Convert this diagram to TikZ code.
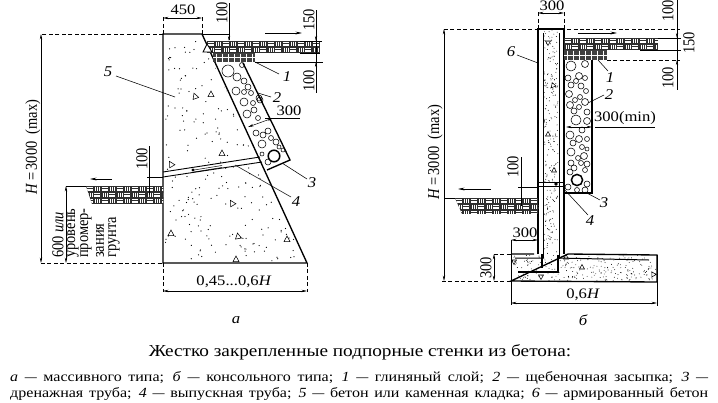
\documentclass[tikz,border=0pt]{standalone}
\usepackage{fontspec}
\usepackage{graphicx}
\setmainfont{Liberation Serif}
\usetikzlibrary{arrows.meta}
\newcommand{\soilfill}[4]{%
 \fill[black!82] (#1,#2) rectangle (#3,#4);
 \pgfmathtruncatemacro\nx{(#3-#1)/7.5}
 \pgfmathtruncatemacro\ny{(#4-#2)/6}
 \foreach \i in {0,...,\nx}{\foreach \j in {0,...,\ny}{
   \pgfmathsetmacro\cx{#1+\i*7.5}\pgfmathsetmacro\cy{#2+\j*6}
   \pgfmathtruncatemacro\pp{mod(\i+\j,2)}
   \ifnum\pp=0
     \draw[white,line width=.5pt] (\cx+.8,\cy+1.4) -- ++(6,0) (\cx+.8,\cy+3) -- ++(6,0) (\cx+.8,\cy+4.6) -- ++(6,0);
   \else
     \draw[white,line width=.5pt] (\cx+1.8,\cy+.6) -- ++(0,4.8) (\cx+3.8,\cy+.6) -- ++(0,4.8) (\cx+5.8,\cy+.6) -- ++(0,4.8);
   \fi}}}
\newcommand{\dsh}{\scalebox{.75}[1]{---}}
\tikzset{
 wall/.style={line width=1.35pt,line join=miter},
 dimline/.style={line width=.5pt,{Stealth[length=5.5pt,width=2.4pt]}-{Stealth[length=5.5pt,width=2.4pt]}},
 arrowline/.style={line width=.6pt,-{Stealth[length=6.5pt,width=2.8pt]}},
 extline/.style={line width=.5pt},
 dashext/.style={line width=.5pt,dash pattern=on 4pt off 2.5pt},
 leader/.style={line width=.55pt},
 txt/.style={font=\fontsize{14.5}{16}\selectfont,inner sep=0pt,transform shape,xscale=1.15},
 rot/.style={font=\fontsize{14.5}{16}\selectfont,inner sep=0pt,transform shape,rotate=90,yscale=1.15},
 ital/.style={font=\fontsize{15}{16}\selectfont\itshape,inner sep=0pt,transform shape,xscale=1.12},
 stone/.style={line width=.55pt},
 aggr/.style={line width=.55pt},
 capt/.style={font=\fontsize{14}{16}\selectfont,inner sep=0pt,anchor=west}
}
\begin{document}
\begin{tikzpicture}[x=1bp,y=-1bp]
\useasboundingbox (0,0) rectangle (718,402);
\pgfmathsetseed{4711}
% ---------- figure a ----------
\begin{scope}
 \clip (165,36) -- (201,36) -- (305,261) -- (165,261) -- cycle;
 \foreach \i in {1,...,300}{\fill (165+rnd*140,36+rnd*225) circle (.62);}
\end{scope}
\fill[white] (163,172) -- (260,157) -- (262,162) -- (163,177) -- cycle;
\draw[wall] (202,34) -- (163,34) -- (163,263) -- (307,263) -- (202,34);
\draw[line width=.9pt] (163,172) -- (260,157) (163,177) -- (262,162);
\draw[line width=.5pt] (194,170) -- (222,165.5) (194,172) -- (222,167.5);
\fill (193,170) circle (1.6);
% gravel a
\draw[wall] (243,63) -- (290,160) -- (267,170);
\foreach \x/\y/\r in {228/71/6,237/77/4,244/81/3,242/65/2.5,236/91/4,244/92/2.5,251/93/2.5,248/87/3,259/98/3,244/102/4,253/103/2.5,260/100/3,254/110/3,247/114/4,258/118/2.5,256/133/3,263/135/3,268/131/3,271/138/2.5,262/144/4,276/142/3,279/147/2,262/154/2,268/162/3,283/150/2}
  \draw[stone] (\x,\y) circle (\r);
\draw[line width=1.5pt,fill=white] (274,156) circle (5.8);
% soil a top
\begin{scope}
 \clip (207,41) rectangle (320,53);
 \soilfill{207}{41}{320}{53}
\end{scope}
\begin{scope}
 \clip (213,53) rectangle (255,62);
 \fill[black!75] (213,53) rectangle (255,62);
 \foreach \x in {216,222,...,252}{\draw[white,line width=.5pt] (\x,53.5) -- (\x,61.5);}
 \draw[white,line width=.5pt] (213,57.5) -- (255,57.5);
\end{scope}
\draw[line width=.9pt,fill=white] (203,52) -- (207,44) -- (212,52) -- cycle;
\draw[extline] (255,62) -- (323,62) (202,34) -- (229,34);
% soil a lower
\begin{scope}
 \clip (86,186) -- (163,186) -- (163,204) -- (92,204) -- cycle;
 \soilfill{86}{186}{163}{204}
\end{scope}
% aggregates a
\foreach \x/\y/\a in {195/96/20,211/94/0,222/153/0,171/164/30,232/203/30,171/233/0,238/236/10,287/239/0,236/259/0}
  \draw[aggr,rotate around={\a:(\x,\y)}] (\x-3,\y+2.6) -- (\x,\y-3) -- (\x+3,\y+2.6) -- cycle;
% dims a
\coordinate (a450l) at (163,34); \coordinate (a450r) at (202,34);
\draw[dashext] (a450l) -- (163,15) (a450r) -- (202,15) (a450l) -- (41,34);
\draw[dimline] (163,18) -- (202,18);
\node[txt] (t450) at (183,10) {450};
\draw[dimline] (41,34) -- (41,263);
\draw[dashext] (41,263) -- (163,263);
\node[rot] (tHa) at (33,147) {\textit{H}\,=\,3000\ \ (max)};
\node[rot] (t100a) at (222,13) {100};
\draw[extline] (229,3) -- (229,40);
\draw[extline,-{Stealth[length=5pt,width=2.2pt]}] (229,22) -- (229,41);
\draw[arrowline] (265,33) -- (302,33);
\node[rot] (t150a) at (309,20) {150};
\draw[extline] (316,10) -- (316,93) (300,41) -- (322,41) (300,53) -- (320,53);
\draw[extline,-{Stealth[length=5pt,width=2.2pt]}] (316,22) -- (316,41);
\draw[extline,-{Stealth[length=5pt,width=2.2pt]}] (316,80) -- (316,62);
\node[rot] (t100b) at (309,81) {100};
\node[ital] (l5) at (108,72) {5};
\coordinate (p5) at (175,97); \draw[leader] (l5) ++(8,4) -- (p5);
\node[ital] (l1) at (287,77) {1};
\coordinate (p1) at (255,62); \draw[leader] (p1) -- (279,74);
\node[ital] (l2) at (277,98) {2};
\coordinate (p2) at (258,93); \draw[leader] (p2) -- (271,97);
\node[txt] (t300a) at (289,111) {300};
\draw[extline] (265,118) -- (300,118);
\draw[dimline] (248,127) -- (273,118);
\node[ital] (l3) at (312,183) {3};
\coordinate (p3) at (282,163); \draw[leader] (p3) -- (307,179);
\node[ital] (l4) at (296,202) {4};
\coordinate (p4) at (235,165); \draw[leader] (p4) -- (291,197);
\node[rot] (t100c) at (142,159) {100};
\draw[extline] (149,146) -- (149,195) (147,177) -- (163,177);
\draw[arrowline] (112,179) -- (90,179);
\draw[extline] (66,186) -- (86,186);
\draw[dimline] (66,186) -- (66,263);
\foreach \x/\t/\n in {58/600 \textit{или}/a,73/уровень/b,86/промер-/c,100/зания/d,114/грунта/e}
  \node[rot,anchor=west] (s\n) at (\x,258) {\t};
\draw[dashext] (163,263) -- (163,292) (307,263) -- (307,292);
\draw[dimline] (163,291) -- (307,291);
\node[txt] (tba) at (234,282) {0,45...0,6\textit{H}};
\node[ital] (ca) at (236,320) {а};
% ---------- figure b ----------
\begin{scope}
 \clip (544,30) rectangle (558,254);
 \foreach \i in {1,...,230}{\fill (544+rnd*14,30+rnd*224) circle (.45);}
\end{scope}
\begin{scope}
 \clip (512,255) rectangle (656,281);
 \foreach \i in {1,...,230}{\fill (512+rnd*144,255+rnd*26) circle (.45);}
\end{scope}
\fill[white] (538,182) rectangle (564,186);
\draw[wall] (538,254) -- (538,29) -- (564,29) -- (564,254);
\draw[wall] (511,254) -- (534,254) (568,254) -- (657,255) -- (657,282) -- (511,281) -- cycle;
\draw[line width=.9pt] (543,33) -- (543,258);
\draw[line width=.9pt] (559,33) -- (559,258);
% rebars
\draw[line width=1pt] (515,258) -- (544,258) (558,258) -- (649,260);
\draw[line width=1.2pt] (518,272) -- (558,272) -- (558,255);
\draw[line width=1.2pt] (542,254) -- (542,268);
\draw[line width=.9pt] (538,182) -- (564,182) (538,186) -- (564,186);
\fill (556,184) circle (1.8);
% gravel b
\draw[wall] (592,60) -- (592,193) -- (564,193);
\foreach \x/\y/\r in {571/66/5,585/64/3.5,579/76/3.5,585/78/2.5,568/78/3,576/81/2.5,571/85/3,581/86/3,586/91/2.5,569/94/3.5,575/100/2.5,580/97/2.5,570/105/3.5,579/107/2.5,585/102/3.5,574/111/3,587/112/3,576/120/5,587/121/3.5,582/130/3,570/135/4,579/139/3.5,587/139/2.5,573/143/3,582/147/2.5,587/149/2,571/152/4,584/156/3.5,578/158/2.5,571/163/3,581/163/2.5,587/164/3,574/168/3,585/170/2.5,570/172/3,568/187/3,577/190/2.5,587/184/3,585/190/3}
  \draw[stone] (\x,\y) circle (\r);
\draw[line width=1.5pt,fill=white] (577,180) circle (5.6);
% soil b
\begin{scope}
 \clip (564,38) rectangle (658,50);
 \soilfill{564}{38}{658}{50}
\end{scope}
\begin{scope}
 \clip (564,50) rectangle (607,60);
 \fill[black!75] (564,50) rectangle (607,60);
 \foreach \x in {567,573,...,603}{\draw[white,line width=.5pt] (\x,50.5) -- (\x,59.5);}
 \draw[white,line width=.5pt] (564,55) -- (607,55);
\end{scope}
\begin{scope}
 \clip (455,198) -- (538,198) -- (538,214) -- (462,214) -- cycle;
 \soilfill{455}{198}{538}{214}
\end{scope}
% aggregates b
\foreach \x/\y/\a in {548/43/180,553/85/20,548/134/0,554/170/0,514/262/180,541/277/180,582/267/0,653/274/30,566/257/0}
  \draw[aggr,rotate around={\a:(\x,\y)}] (\x-2.5,\y+2) -- (\x,\y-2.5) -- (\x+2.5,\y+2) -- cycle;
% dims b
\draw[dashext] (444,29) -- (680,29);
\draw[dashext] (538,29) -- (538,12) (564,29) -- (564,12);
\draw[dimline] (538,13) -- (564,13);
\node[txt] (t300b) at (552,6) {300};
\draw[dimline] (444,29) -- (444,281);
\draw[dashext] (442,281) -- (511,281) (494,254) -- (511,254);
\node[rot] (tHb) at (435,152) {\textit{H}\,=\,3000\ \ (max)};
\node[rot] (t100d) at (668,11) {100};
\draw[extline] (677,0) -- (677,90) (658,38) -- (681,38) (640,50) -- (681,50);
\draw[dashext] (607,60) -- (680,60);
\draw[extline,-{Stealth[length=5pt,width=2.2pt]}] (677,18) -- (677,38);
\draw[extline,-{Stealth[length=5pt,width=2.2pt]}] (677,78) -- (677,60);
\node[rot] (t150b) at (689,43) {150};
\node[rot] (t100e) at (668,78) {100};
\draw[arrowline] (578,33) -- (617,33);
\node[ital] (l6) at (511,52) {6};
\coordinate (q6) at (538,63); \draw[leader] (517,55) -- (q6);
\node[ital] (m1) at (610,78) {1};
\coordinate (q1) at (598,60); \draw[leader] (q1) -- (608,71);
\node[ital] (m2) at (609,95) {2};
\coordinate (q2) at (588,103); \draw[leader] (q2) -- (604,95);
\node[txt] (t300c) at (625,118) {300(min)};
\draw[extline] (595,127) -- (655,127);
\draw[dimline] (566,127) -- (592,127);
\node[ital] (m3) at (604,203) {3};
\coordinate (q3) at (585,192); \draw[leader] (q3) -- (600,200);
\node[ital] (m4) at (590,221) {4};
\coordinate (q4) at (563,188); \draw[leader] (q4) -- (588,215);
\node[rot] (t100f) at (513,167) {100};
\draw[extline] (521,157) -- (521,206) (518,187) -- (538,187);
\draw[arrowline] (491,189) -- (458,189);
\draw[extline] (444,198) -- (455,198);
\draw[extline] (511,240) -- (511,305) (657,255) -- (657,306);
\draw[dimline] (511,240) -- (538,240);
\node[txt] (t300d) at (525,233) {300};
\draw[dimline] (494,254) -- (494,281);
\node[rot] (t300e) at (486,268) {300};
\draw[dimline] (511,303) -- (657,303);
\node[txt] (tbb) at (583,295) {0,6\textit{H}};
\node[ital] (cb) at (583,320) {б};
% ---------- caption ----------
\node[font=\fontsize{16.8}{18}\selectfont,inner sep=0pt,transform shape,xscale=1.15] (title) at (360,352) {Жестко закрепленные подпорные стенки из бетона:};
\node[capt] (cap1) at (10,378) {\scalebox{1.15}[1]{\spaceskip=.18em plus 1em\makebox[607bp][s]{\textit{а} \dsh{} массивного типа; \textit{б} \dsh{} консольного типа; \textit{1} \dsh{} глиняный слой; \textit{2} \dsh{} щебеночная засыпка; \textit{3} \dsh}}};
\node[capt] (cap2) at (10,394) {\scalebox{1.15}[1]{\spaceskip=.18em plus 1em\makebox[607bp][s]{дренажная труба; \textit{4} \dsh{} выпускная труба; \textit{5} \dsh{} бетон или каменная кладка; \textit{6} \dsh{} армированный бетон}}};
\end{tikzpicture}
\end{document}
